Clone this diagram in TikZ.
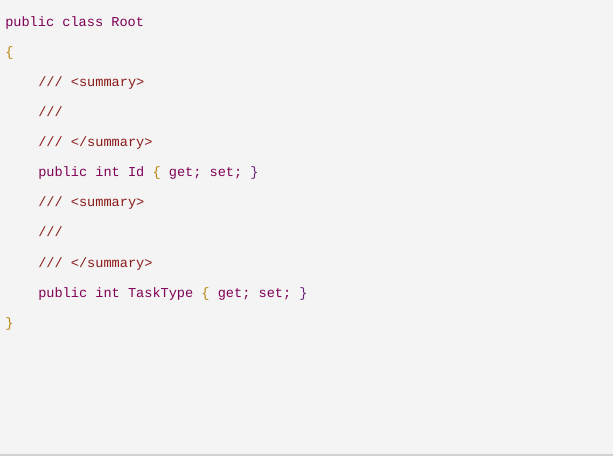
\documentclass[tikz,border=0pt]{standalone}
\usepackage{fontspec}
\setmonofont{Liberation Mono}
\definecolor{bg}{HTML}{F4F4F4}
\definecolor{kw}{HTML}{7F0055}
\definecolor{br}{HTML}{B8860B}
\definecolor{cm}{HTML}{8B1A1A}
\definecolor{gs}{HTML}{6A1F7A}
\begin{document}
\begin{tikzpicture}[x=0.75pt,y=-0.75pt,
  ln/.style={anchor=base west,inner sep=0pt,font=\ttfamily\fontsize{10.2pt}{12pt}\selectfont}]
\useasboundingbox (0,0) rectangle (613,470);
\fill[bg] (0,0) rectangle (613,454);
\fill[gray!35] (0,454) rectangle (613,455.5);
\node[ln,text=kw] (l1) at (5,27) {public class Root};
\node[ln,text=br] (l2) at (5,57) {\{};
\node[ln,text=cm] (l3) at (38,87) {/// <summary>};
\node[ln,text=cm] (l4) at (38,117) {///};
\node[ln,text=cm] (l5) at (38,147) {/// </summary>};
\node[ln] (l6) at (38,177) {\textcolor{kw}{public int Id} \textcolor{br}{\{} \textcolor{kw}{get; set;} \textcolor{gs}{\}}};
\node[ln,text=cm] (l7) at (38,207) {/// <summary>};
\node[ln,text=cm] (l8) at (38,237) {///};
\node[ln,text=cm] (l9) at (38,267) {/// </summary>};
\node[ln] (l10) at (38,297) {\textcolor{kw}{public int TaskType} \textcolor{br}{\{} \textcolor{kw}{get; set;} \textcolor{gs}{\}}};
\node[ln,text=br] (l11) at (5,327) {\}};
\end{tikzpicture}
\end{document}
